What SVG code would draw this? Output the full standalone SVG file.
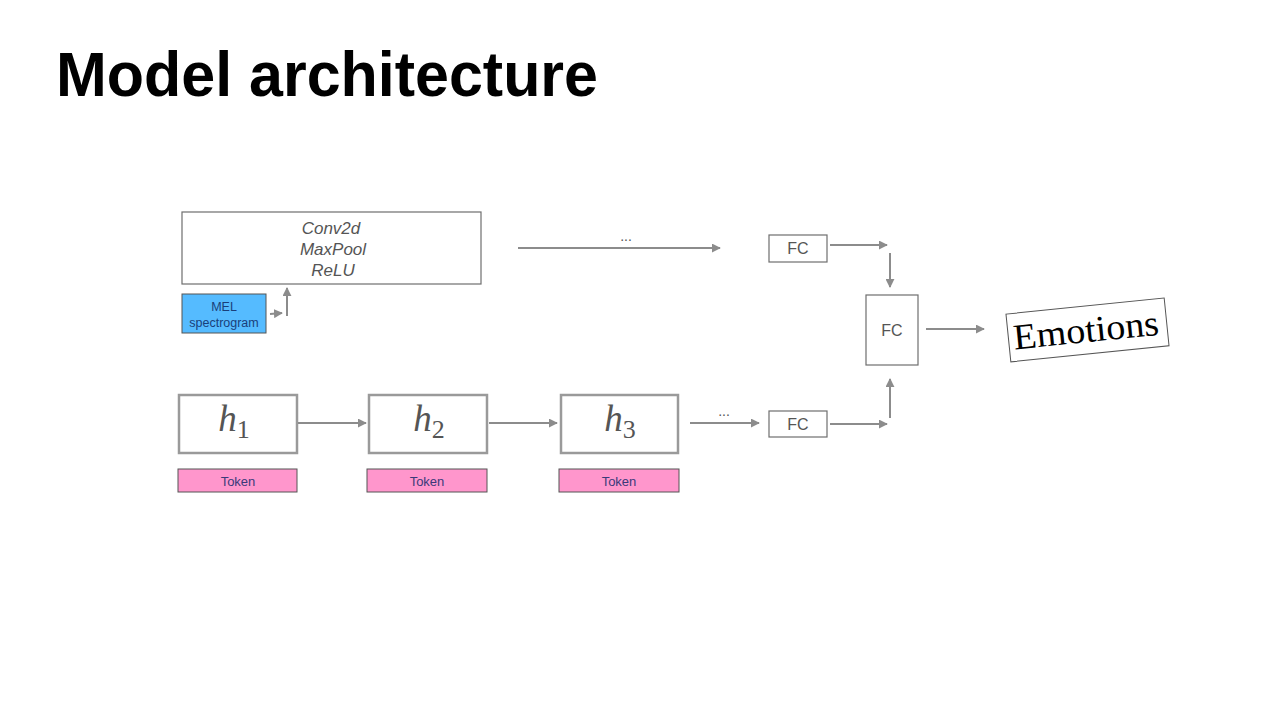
<svg xmlns="http://www.w3.org/2000/svg" width="1280" height="717" viewBox="0 0 1280 717">
<defs>
<marker id="ah" viewBox="0 0 10 10" refX="9" refY="5" markerWidth="4.5" markerHeight="4.5" orient="auto" markerUnits="strokeWidth">
<path d="M0,0 L10,5 L0,10 z" fill="#8c8c8c"/>
</marker>
<style>
.title{font-family:"Liberation Sans",Arial,sans-serif;font-weight:bold;font-size:63px;fill:#000}
.conn line{stroke:#8c8c8c;stroke-width:2;marker-end:url(#ah)}
.box{fill:#fff;stroke:#6e6e6e;stroke-width:1.2}
.hbox{fill:#fff;stroke:#9a9a9a;stroke-width:2.5}
.it{font-family:"Liberation Sans",Arial,sans-serif;font-style:italic;font-size:17px;fill:#555;text-anchor:middle}
.fc{font-family:"Liberation Sans",Arial,sans-serif;font-size:16px;fill:#555;text-anchor:middle}
.mel{fill:#55bbff;stroke:#555;stroke-width:1}
.meltxt{font-family:"Liberation Sans",Arial,sans-serif;font-size:12.5px;fill:#1a3f7a;text-anchor:middle}
.tok{fill:#ff96cc;stroke:#555;stroke-width:1}
.toktxt{font-family:"Liberation Sans",Arial,sans-serif;font-size:13px;fill:#3a3a7a;text-anchor:middle}
.h{font-family:"Liberation Serif","Times New Roman",serif;font-style:italic;font-size:37px;fill:#555;text-anchor:middle}
.sub{font-style:normal;font-size:26px}
.dots{font-family:"Liberation Sans",Arial,sans-serif;font-size:14px;fill:#555;text-anchor:middle}
</style>
</defs>
<rect width="1280" height="717" fill="#fff"/>
<text class="title" x="56" y="96" textLength="542" lengthAdjust="spacingAndGlyphs">Model architecture</text>

<g id="conv">
<rect class="box" x="182" y="212" width="299" height="72"/>
<text class="it" x="331" y="234">Conv2d</text>
<text class="it" x="333" y="255">MaxPool</text>
<text class="it" x="333" y="276">ReLU</text>
</g>
<g id="mel">
<rect class="mel" x="182" y="294" width="84" height="39"/>
<text class="meltxt" x="224" y="311">MEL</text>
<text class="meltxt" x="224" y="327">spectrogram</text>
</g>
<g id="fc-top">
<rect class="box" x="769" y="235" width="58" height="27"/>
<text class="fc" x="798" y="254">FC</text>
</g>
<g id="fc-mid">
<rect class="box" x="866" y="295" width="52" height="70"/>
<text class="fc" x="892" y="336">FC</text>
</g>
<g id="fc-bot">
<rect class="box" x="769" y="411" width="58" height="26"/>
<text class="fc" x="798" y="430">FC</text>
</g>
<g id="emotions" transform="rotate(-5.8 1087 330)">
<rect x="1008" y="306" width="159" height="48" fill="#fff" stroke="#555" stroke-width="1"/>
<text x="1086" y="342" font-family="'Liberation Serif','Times New Roman',serif" font-size="36" fill="#000" text-anchor="middle" textLength="146" lengthAdjust="spacingAndGlyphs">Emotions</text>
</g>
<g id="h1">
<rect class="hbox" x="179" y="395" width="118" height="58"/>
<text class="h" x="234" y="431">h<tspan class="sub" dy="7">1</tspan></text>
</g>
<g id="h2">
<rect class="hbox" x="369" y="395" width="118" height="58"/>
<text class="h" x="429" y="431">h<tspan class="sub" dy="7">2</tspan></text>
</g>
<g id="h3">
<rect class="hbox" x="561" y="395" width="117" height="58"/>
<text class="h" x="620" y="431">h<tspan class="sub" dy="7">3</tspan></text>
</g>
<g id="tok1">
<rect class="tok" x="178" y="469" width="119" height="23"/>
<text class="toktxt" x="238" y="486">Token</text>
</g>
<g id="tok2">
<rect class="tok" x="367" y="469" width="120" height="23"/>
<text class="toktxt" x="427" y="486">Token</text>
</g>
<g id="tok3">
<rect class="tok" x="559" y="469" width="120" height="23"/>
<text class="toktxt" x="619" y="486">Token</text>
</g>

<g id="connectors" class="conn">
<line x1="270" y1="314" x2="282" y2="313"/>
<line x1="287" y1="316" x2="287" y2="288"/>
<line x1="518" y1="248" x2="720" y2="248"/>
<line x1="830" y1="245" x2="887" y2="245"/>
<line x1="890" y1="253" x2="890" y2="287"/>
<line x1="926" y1="329" x2="984" y2="329"/>
<line x1="830" y1="424" x2="887" y2="424"/>
<line x1="890" y1="418" x2="890" y2="379"/>
<line x1="298" y1="423" x2="366" y2="423"/>
<line x1="489" y1="423" x2="557" y2="423"/>
<line x1="690" y1="423" x2="759" y2="423"/>
</g>
<text class="dots" x="626" y="241">...</text>
<text class="dots" x="724" y="416">...</text>
</svg>
